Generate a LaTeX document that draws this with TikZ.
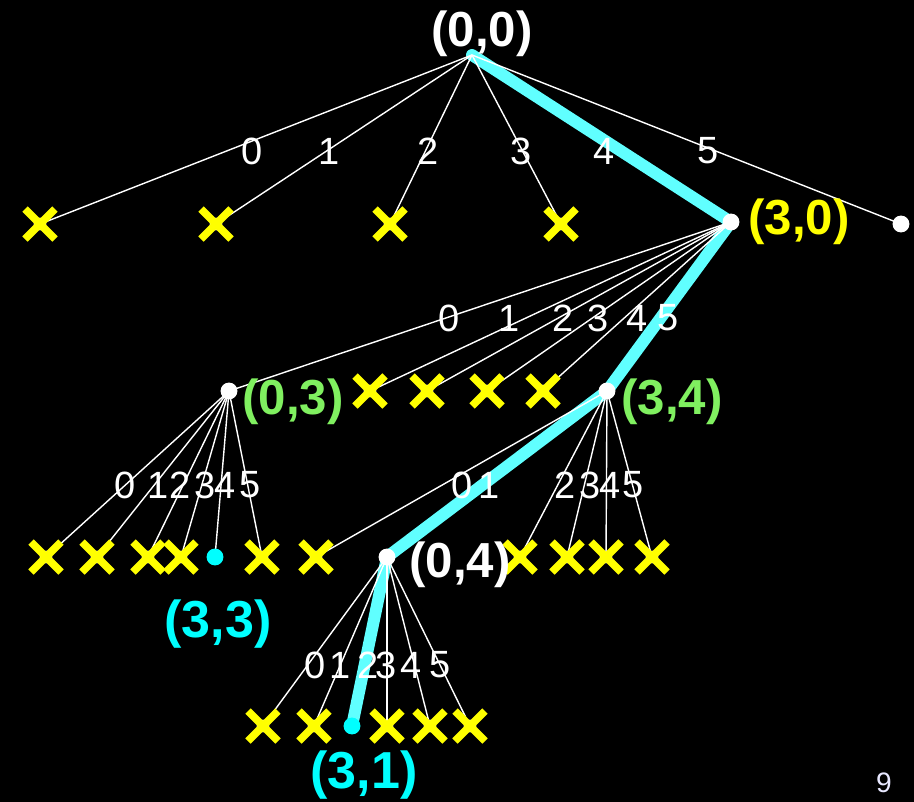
\documentclass[tikz,border=0pt]{standalone}
\usepackage{fontspec}
\setmainfont{Liberation Sans}
\usetikzlibrary{backgrounds}
\definecolor{pathcyan}{HTML}{60FFFF}
\definecolor{labgreen}{HTML}{80F060}
\definecolor{labcyan}{HTML}{00FFFF}
\definecolor{labyellow}{HTML}{FFFF00}
\definecolor{pagecol}{HTML}{E8E8FF}
\begin{document}
\begin{tikzpicture}[x=0.025cm, y=-0.025cm,
  thinedge/.style={white, line width=1pt},
  bestpath/.style={pathcyan, line width=8.5pt, line join=round, line cap=round},
  wdot/.style={circle, fill=white, inner sep=0pt, minimum size=12pt},
  cdot/.style={circle, fill=labcyan, inner sep=0pt, minimum size=12pt},
  xdot/.style={circle, fill=white, inner sep=0pt, minimum size=9pt},
  xcross/.style={labyellow, line width=5.5pt},
  edgelab/.style={white, font=\fontsize{27}{30}\selectfont, inner sep=0pt},
  statelab/.style={font=\bfseries\fontsize{35}{38}\selectfont, inner sep=0pt},
  biglab/.style={font=\bfseries\fontsize{37}{40}\selectfont, inner sep=0pt}]
\useasboundingbox (0,0) rectangle (914,802);
% nodes
\coordinate (root) at (472,55);
\node[xdot] (a0) at (40,224) {};
\node[xdot] (a1) at (216,224) {};
\node[xdot] (a2) at (390,224) {};
\node[xdot] (a3) at (561,224) {};
\node[wdot] (n30) at (731,222) {};
\node[wdot] (a5) at (901,224) {};
\node[wdot] (n03) at (229,391) {};
\node[xdot] (b1) at (370,391) {};
\node[xdot] (b2) at (427,391) {};
\node[xdot] (b3) at (487,391) {};
\node[xdot] (b4) at (543,391) {};
\node[wdot] (n34) at (607,391) {};
\node[xdot] (c0) at (46,557) {};
\node[xdot] (c1) at (97,557) {};
\node[xdot] (c2) at (148,557) {};
\node[xdot] (c3) at (181,557) {};
\node[cdot] (n33) at (215,557) {};
\node[xdot] (c5) at (262,557) {};
\node[xdot] (d0) at (316,557) {};
\node[wdot] (n04) at (387,557) {};
\node[xdot] (d2) at (520,557) {};
\node[xdot] (d3) at (567,557) {};
\node[xdot] (d4) at (606,557) {};
\node[xdot] (d5) at (652,557) {};
\node[xdot] (e0) at (263,726) {};
\node[xdot] (e1) at (314,726) {};
\node[cdot] (n31) at (352,726) {};
\node[xdot] (e3) at (387,726) {};
\node[xdot] (e4) at (430,726) {};
\node[xdot] (e5) at (470,726) {};
% crosses
\foreach \n in {a0,a1,a2,a3,b1,b2,b3,b4,c0,c1,c2,c3,c5,d0,d2,d3,d4,d5,e0,e1,e3,e4,e5}
  \draw[xcross] (\n.center) +(-15,-15) -- +(15,15) +(-15,15) -- +(15,-15);
% edges on background
\begin{scope}[on background layer]
  \fill[black] (0,0) rectangle (914,802);
  \draw[bestpath] (root) -- (n30.center) -- (n34.center) -- (n04.center) -- (n31.center);
  \foreach \c in {a0,a1,a2,a3,a5} \draw[thinedge] (root) -- (\c.center);
  \foreach \c in {n03,b1,b2,b3,b4} \draw[thinedge] (n30.center) -- (\c.center);
  \foreach \c in {c0,c1,c2,c3,n33,c5} \draw[thinedge] (n03.center) -- (\c.center);
  \foreach \c in {d0,d2,d3,d4,d5} \draw[thinedge] (n34.center) -- (\c.center);
  \foreach \c in {e0,e1,e3,e4,e5} \draw[thinedge] (n04.center) -- (\c.center);
\end{scope}
% edge labels
\node[edgelab] (l10) at (252,151) {0};
\node[edgelab] (l11) at (329,151) {1};
\node[edgelab] (l12) at (428,151) {2};
\node[edgelab] (l13) at (521,151) {3};
\node[edgelab] (l14) at (604,151) {4};
\node[edgelab] (l15) at (708,151) {5};
\node[edgelab] (l20) at (449,318) {0};
\node[edgelab] (l21) at (509,318) {1};
\node[edgelab] (l22) at (563,318) {2};
\node[edgelab] (l23) at (598,318) {3};
\node[edgelab] (l24) at (637,318) {4};
\node[edgelab] (l25) at (668,318) {5};
\node[edgelab] (l30) at (125,485) {0};
\node[edgelab] (l31) at (158,485) {1};
\node[edgelab] (l32) at (180,485) {2};
\node[edgelab] (l33) at (205,485) {3};
\node[edgelab] (l34) at (225,485) {4};
\node[edgelab] (l35) at (250,485) {5};
\node[edgelab] (l40) at (462,485) {0};
\node[edgelab] (l41) at (489,485) {1};
\node[edgelab] (l42) at (565,485) {2};
\node[edgelab] (l43) at (590,485) {3};
\node[edgelab] (l44) at (610,485) {4};
\node[edgelab] (l45) at (633,485) {5};
\node[edgelab] (l50) at (315,665) {0};
\node[edgelab] (l51) at (340,665) {1};
\node[edgelab] (l52) at (368,665) {2};
\node[edgelab] (l53) at (386,665) {3};
\node[edgelab] (l54) at (411,665) {4};
\node[edgelab] (l55) at (440,665) {5};
% state labels
\node[statelab, white] (s00) at (482,34) {(0,0)};
\node[statelab, labyellow, anchor=west] (s30) at (748,222) {(3,0)};
\node[statelab, labgreen, anchor=west] (s03) at (242,402) {(0,3)};
\node[statelab, labgreen, anchor=west] (s34) at (621,402) {(3,4)};
\node[statelab, white, anchor=west] (s04) at (409,565) {(0,4)};
\node[biglab, labcyan] (s33) at (218,624) {(3,3)};
\node[biglab, labcyan] (s31) at (364,775) {(3,1)};
\node[pagecol, font=\fontsize{20}{22}\selectfont, inner sep=0pt] (page) at (884,783) {9};
\end{tikzpicture}
\end{document}
